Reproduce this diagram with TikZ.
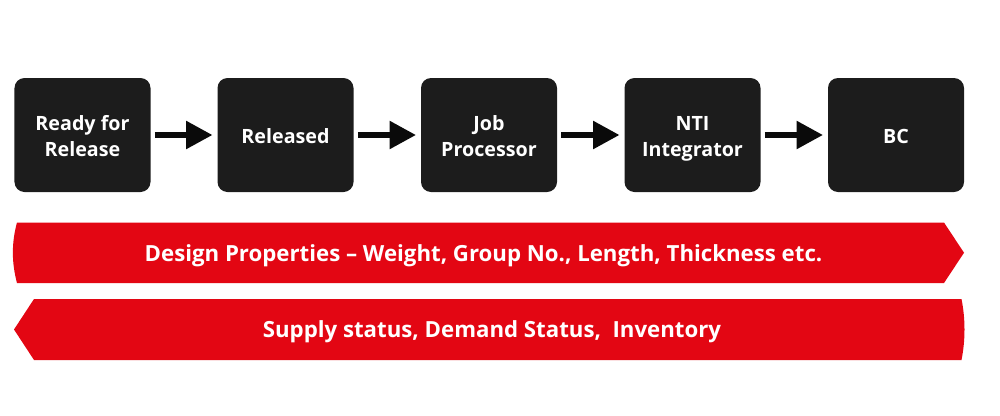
\documentclass[tikz,border=0pt]{standalone}
\usepackage{fontspec}
\setmainfont{Open Sans}
\usetikzlibrary{arrows.meta, positioning, calc}
\definecolor{BoxBlack}{HTML}{1C1C1C}
\definecolor{ArrowBlack}{HTML}{0A0A0A}
\definecolor{BandRed}{HTML}{E30613}
\newcommand{\StageTop}{\rule{0pt}{13pt}}
\tikzset{
  stagebox/.style={fill=BoxBlack, rounded corners=0.2cm, minimum width=2.72cm, minimum height=2.28cm,
    align=center, text=white, font=\fontsize{11.2}{14.9}\selectfont\bfseries,
    execute at end node=\rule[-3pt]{0pt}{3pt}},
  flowarrow/.style={draw=ArrowBlack, line width=0.13cm, shorten <=0.08cm, shorten >=0.09cm,
    -{Triangle[length=0.53cm,width=0.53cm]}},
  bandlabel/.style={text=white, font=\fontsize{12.65}{15}\selectfont\bfseries}
}

\begin{document}
\begin{tikzpicture}
  \useasboundingbox (0,0) rectangle (20,8.3);
  % --- GEOMETRIC VARIABLES ---
  \def\StageY{5.6}

  % =====================================================================
  % 1. STAGES
  % =====================================================================
  \node[stagebox] (ready) at (1.65,\StageY) {\StageTop Ready for\\Release};
  \node[stagebox] (released) at (5.71,\StageY) {\StageTop Released};
  \node[stagebox] (processor) at (9.78,\StageY) {\StageTop Job\\Processor};
  \node[stagebox] (integrator) at (13.85,\StageY) {\StageTop NTI\\Integrator};
  \node[stagebox] (bc) at (17.92,\StageY) {\StageTop BC};

  % Arrows
  \draw[flowarrow] (ready) -- (released);
  \draw[flowarrow] (released) -- (processor);
  \draw[flowarrow] (processor) -- (integrator);
  \draw[flowarrow] (integrator) -- (bc);

  % =====================================================================
  % 2. RED BANDS
  % =====================================================================
  % Forward band
  \fill[BandRed] (0.34,3.85) -- (18.88,3.85) -- (19.28,3.245) -- (18.88,2.64) -- (0.34,2.64)
    .. controls (0.23,3.05) and (0.23,3.45) .. cycle;
  \node[bandlabel] (design) at (9.67,3.19) {Design Properties – Weight, Group No., Length, Thickness etc.};

  % Backward band
  \fill[BandRed] (0.68,2.32) -- (19.23,2.32) .. controls (19.31,1.92) and (19.31,1.5) .. (19.23,1.10)
    -- (0.68,1.10) -- (0.28,1.71) -- cycle;
  \node[bandlabel] (supply) at (9.84,1.66) {Supply status, Demand Status,\ \ Inventory};
\end{tikzpicture}
\end{document}
